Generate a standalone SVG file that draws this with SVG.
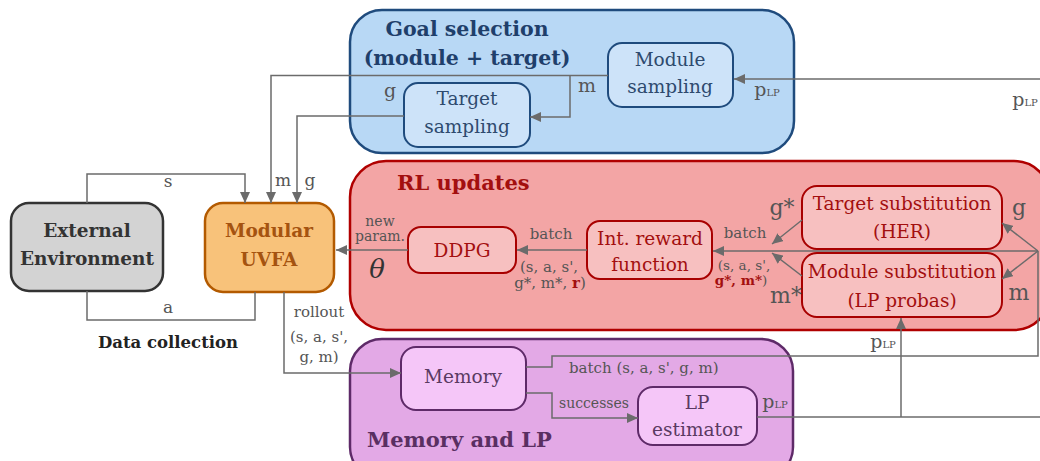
<svg xmlns="http://www.w3.org/2000/svg" width="1040" height="461" viewBox="0 0 1040 461">
<style>
text{font-family:"DejaVu Serif","Liberation Serif",serif;text-anchor:middle}
.t{font-weight:bold;font-size:20px;text-anchor:start}
.n{font-size:18.5px}
.l{font-size:15px;fill:#555}
.s2{font-size:13.5px}
.big{font-size:21px;fill:#555}
.c{fill:none;stroke:#6b6b6b;stroke-width:1.5}
.a{marker-end:url(#ah)}
.sc{font-size:10px}
</style>
<defs>
<marker id="ah" markerUnits="userSpaceOnUse" markerWidth="12" markerHeight="10" refX="11" refY="5" orient="auto">
<path d="M0,0 L11,5 L0,10 Z" fill="#6b6b6b"/>
</marker>
</defs>
<!-- containers -->
<g id="goal-selection">
<rect x="350" y="10" width="444" height="143" rx="32" fill="#b8d8f5" stroke="#1f4b7d" stroke-width="2.5"/>
<text class="t" x="467" y="36" style="text-anchor:middle;font-size:20.5px" fill="#1f3f6b">Goal selection</text>
<text class="t" x="467" y="65" style="text-anchor:middle;font-size:20.5px" fill="#1f3f6b">(module + target)</text>
</g>
<g id="rl-updates">
<rect x="350" y="161" width="700" height="169" rx="36" fill="#f3a5a5" stroke="#b00000" stroke-width="2.5"/>
<text class="t" x="397" y="190" fill="#a30f0f" style="font-size:21px">RL updates</text>
</g>
<g id="memory-lp">
<rect x="350" y="339" width="443" height="140" rx="32" fill="#e3a9e6" stroke="#5e2a68" stroke-width="2.5"/>
<text class="t" x="367" y="447" fill="#5a2f62" style="font-size:21px">Memory and LP</text>
</g>
<!-- nodes -->
<g id="module-sampling">
<rect x="608" y="43" width="125" height="64" rx="14" fill="#cde3f9" stroke="#1f4b7d" stroke-width="2"/>
<text class="n" x="670" y="66" fill="#2e4a6e">Module</text>
<text class="n" x="670" y="93" fill="#2e4a6e">sampling</text>
</g>
<g id="target-sampling">
<rect x="404" y="83" width="126" height="64" rx="14" fill="#cde3f9" stroke="#1f4b7d" stroke-width="2"/>
<text class="n" x="467" y="105" fill="#2e4a6e">Target</text>
<text class="n" x="467" y="133" fill="#2e4a6e">sampling</text>
</g>
<g id="external-environment">
<rect x="11" y="203" width="152" height="88" rx="18" fill="#d3d3d3" stroke="#333" stroke-width="2.5"/>
<text class="n" x="87" y="237" font-weight="bold" fill="#333">External</text>
<text class="n" x="87" y="265" font-weight="bold" fill="#333">Environment</text>
</g>
<g id="modular-uvfa">
<rect x="205" y="203" width="129" height="89" rx="18" fill="#f8c27a" stroke="#b35a00" stroke-width="2.5"/>
<text class="n" x="269" y="237" font-weight="bold" fill="#a55310">Modular</text>
<text class="n" x="269" y="266" font-weight="bold" fill="#a55310">UVFA</text>
</g>
<g id="ddpg">
<rect x="408" y="227" width="108" height="46" rx="13" fill="#f7c0c0" stroke="#a80000" stroke-width="2"/>
<text class="n" x="462" y="257" fill="#a30f0f">DDPG</text>
</g>
<g id="int-reward">
<rect x="587" y="221" width="125" height="58" rx="13" fill="#f7c0c0" stroke="#a80000" stroke-width="2"/>
<text class="n" x="650" y="245" fill="#a30f0f">Int. reward</text>
<text class="n" x="650" y="271" fill="#a30f0f">function</text>
</g>
<g id="target-substitution">
<rect x="802" y="186" width="200" height="63" rx="15" fill="#f7c0c0" stroke="#a80000" stroke-width="2"/>
<text class="n" x="902" y="210" fill="#a30f0f">Target substitution</text>
<text class="n" x="902" y="238" fill="#a30f0f">(HER)</text>
</g>
<g id="module-substitution">
<rect x="802" y="253" width="200" height="64" rx="15" fill="#f7c0c0" stroke="#a80000" stroke-width="2"/>
<text class="n" x="902" y="278" fill="#a30f0f">Module substitution</text>
<text class="n" x="902" y="307" fill="#a30f0f">(LP probas)</text>
</g>
<g id="memory">
<rect x="401" y="347" width="125" height="63" rx="15" fill="#f5c6f8" stroke="#5e2a68" stroke-width="2"/>
<text class="n" x="463" y="383" fill="#5a3a62">Memory</text>
</g>
<g id="lp-estimator">
<rect x="638" y="387" width="119" height="58" rx="15" fill="#f5c6f8" stroke="#5e2a68" stroke-width="2"/>
<text class="n" x="697" y="409" fill="#5a3a62">LP</text>
<text class="n" x="697" y="436" fill="#5a3a62">estimator</text>
</g>
<!-- connectors -->
<g id="connectors">
<path class="c a" d="M608,75.5 H271 V203"/>
<path class="c a" d="M570,75.5 V117 H530"/>
<path class="c a" d="M404,116 H297 V203"/>
<path class="c a" d="M1040,79 H734"/>
<path class="c a" d="M87,203 V174 H245 V203"/>
<path class="c" d="M255,292 V320 H87 V291"/>
<path class="c a" d="M408,250 H336"/>
<path class="c a" d="M587,250 H517"/>
<path class="c a" d="M1038,251 H713"/>
<path class="c a" d="M1038,251 L1002,223"/>
<path class="c a" d="M1038,251 L1002,279"/>
<path class="c a" d="M802,220 L772,244"/>
<path class="c a" d="M802,276 L772,253"/>
<path class="c a" d="M284,292 V373 H401"/>
<path class="c" d="M526,367 H552 V356 H1038 V251"/>
<path class="c a" d="M526,393 H552 V418 H638"/>
<path class="c" d="M757,417 H1040"/>
<path class="c a" d="M901,417 V318"/>
</g>
<!-- connector labels -->
<g id="labels">
<text class="big" x="587" y="92" style="font-size:19px">m</text>
<text class="big" x="390" y="97" style="font-size:19px">g</text>
<text class="big" x="767" y="96" style="font-size:19px">p<tspan class="sc">LP</tspan></text>
<text class="big" x="1025" y="106" style="font-size:19px">p<tspan class="sc">LP</tspan></text>
<text class="big" x="168" y="187" style="font-size:17px">s</text>
<text class="big" x="168" y="313" style="font-size:17px">a</text>
<text class="big" x="283" y="186" style="font-size:17px">m</text>
<text class="big" x="310" y="186" style="font-size:17px">g</text>
<text class="l" x="168" y="348" style="font-weight:bold;font-size:16.5px;fill:#222">Data collection</text>
<text class="l" x="380" y="226" style="font-size:14px">new</text>
<text class="l" x="380" y="241" style="font-size:14px">param.</text>
<text class="big" x="377" y="278" style="font-size:26px;font-style:italic;fill:#333">θ</text>
<text class="l" x="551" y="239">batch</text>
<text class="l" x="549" y="272">(s, a, s',</text>
<text class="l" x="550" y="288">g*, m*, <tspan font-weight="bold" fill="#a30f0f">r</tspan>)</text>
<text class="l" x="745" y="238">batch</text>
<text class="l s2" x="744" y="270">(s, a, s',</text>
<text class="l s2" x="741" y="285"><tspan font-weight="bold" fill="#a30f0f">g*, m*</tspan>)</text>
<text class="big" x="782" y="215" style="font-size:22px">g*</text>
<text class="big" x="786" y="303" style="font-size:22px">m*</text>
<text class="big" x="1019" y="215" style="font-size:22px">g</text>
<text class="big" x="1019" y="300" style="font-size:22px">m</text>
<text class="l" x="319" y="317">rollout</text>
<text class="l" x="319" y="342">(s, a, s',</text>
<text class="l" x="319" y="362">g, m)</text>
<text class="l" x="569" y="373" style="text-anchor:start">batch (s, a, s', g, m)</text>
<text class="l" x="594" y="408" style="font-size:14px">successes</text>
<text class="big" x="775" y="408" style="font-size:19px">p<tspan class="sc">LP</tspan></text>
<text class="big" x="883" y="348" style="font-size:19px">p<tspan class="sc">LP</tspan></text>
</g>
</svg>
